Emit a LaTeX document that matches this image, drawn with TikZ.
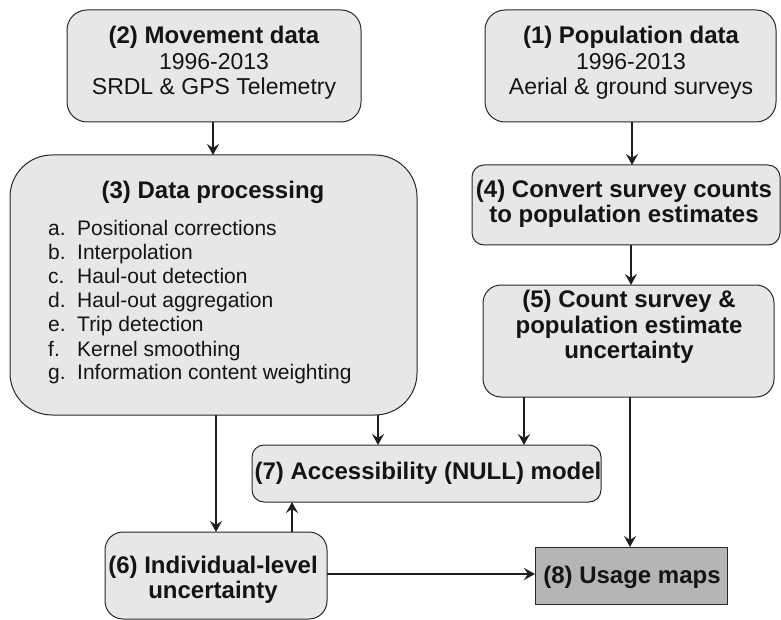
\documentclass[tikz,border=0pt]{standalone}
\usepackage{fontspec}
\setmainfont{Liberation Sans}
\usetikzlibrary{arrows.meta,calc}
\definecolor{boxfill}{RGB}{230,231,232}
\definecolor{darkfill}{RGB}{181,181,182}
\definecolor{edge}{RGB}{40,40,40}
\newcommand\bhead[1]{{\fontsize{24}{25.5}\selectfont\bfseries #1}}
\tikzset{
 box/.style={draw=edge, line width=1pt, fill=boxfill, inner sep=0pt, outer sep=0pt},
 txt/.style={align=center, inner sep=0pt, font=\fontsize{23}{25.5}\selectfont, text=black!92},
 arr/.style={line width=2pt, draw=black!88, -{Stealth[length=11pt,width=12pt,inset=4pt]}},
}
\begin{document}
\begin{tikzpicture}[x=1pt,y=-1pt]
\useasboundingbox (0,0) rectangle (781,620);
% boxes
\node[box, rounded corners=20pt, minimum width=294pt, minimum height=112pt] (b2) at (214,66) {};
\node[box, rounded corners=20pt, minimum width=291pt, minimum height=112pt] (b1) at (630.5,66) {};
\node[box, rounded corners=42pt, minimum width=407pt, minimum height=260pt] (b3) at (213.5,285) {};
\node[box, rounded corners=12pt, minimum width=308pt, minimum height=80pt] (b4) at (626,205) {};
\node[box, rounded corners=18pt, minimum width=291pt, minimum height=112pt] (b5) at (628.5,341) {};
\node[box, rounded corners=18pt, minimum width=222pt, minimum height=87pt] (b6) at (216,575.5) {};
\node[box, rounded corners=12pt, minimum width=349pt, minimum height=57pt] (b7) at (426.5,473.5) {};
\node[box, fill=darkfill, minimum width=192pt, minimum height=57pt] (b8) at (631,575.5) {};
% texts
\node[txt] (b2t) at (214,63) {\bhead{(2) Movement data}\\1996-2013\\SRDL \& GPS Telemetry};
\node[txt] (b1t) at (631,63) {\bhead{(1) Population data}\\1996-2013\\Aerial \& ground surveys};
\node[txt] (b3t) at (213,192) {\bhead{(3) Data processing}};
\node[anchor=base west, inner sep=0pt, font=\fontsize{21}{24}\selectfont, text=black!92] (b3l) at (48,236)
 {\begin{tabular}[t]{@{}p{29pt}@{}l@{}}
 a.&Positional corrections\\
 b.&Interpolation\\
 c.&Haul-out detection\\
 d.&Haul-out aggregation\\
 e.&Trip detection\\
 f.&Kernel smoothing\\
 g.&Information content weighting
 \end{tabular}};
\node[txt] (b4t) at (624,204) {\bhead{(4) Convert survey counts}\\\bhead{to population estimates}};
\node[txt] (b5t) at (629,327) {\bhead{(5) Count survey \&}\\\bhead{population estimate}\\\bhead{uncertainty}};
\node[txt] (b6t) at (213,580) {\bhead{(6) Individual-level}\\\bhead{uncertainty}};
\node[txt] (b7t) at (428,473) {\bhead{(7) Accessibility (NULL) model}};
\node[txt] (b8t) at (632,577) {\bhead{(8) Usage maps}};
% helper x positions
\coordinate (x213) at (213,0);
\coordinate (x632) at (632,0);
\coordinate (x631) at (631,0);
\coordinate (x378) at (378,0);
\coordinate (x524) at (524,0);
\coordinate (x216) at (216,0);
\coordinate (x292) at (292,0);
\coordinate (x630) at (630,0);
% arrows
\draw[arr] (b2.south -| x213) -- (b3.north -| x213);
\draw[arr] (b1.south -| x632) -- (b4.north -| x632);
\draw[arr] (b4.south -| x631) -- (b5.north -| x631);
\draw[arr] (b3.south -| x378) -- (b7.north -| x378);
\draw[arr] (b5.south -| x524) -- (b7.north -| x524);
\draw[arr] (b3.south -| x216) -- (b6.north -| x216);
\draw[arr] (b6.north -| x292) -- (b7.south -| x292);
\draw[arr] (b5.south -| x630) -- (b8.north -| x630);
\draw[arr] ([yshift=1.5pt]b6.east) -- ([yshift=1.5pt]b8.west);
\end{tikzpicture}
\end{document}
